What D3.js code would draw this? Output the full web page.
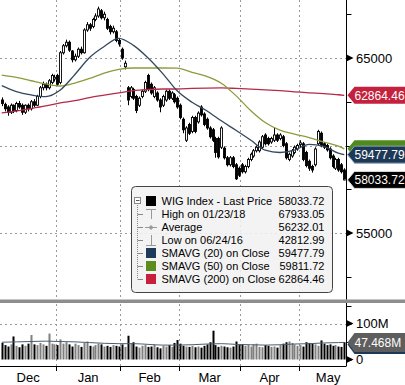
<!DOCTYPE html>
<html><head><meta charset="utf-8">
<script src="https://cdn.jsdelivr.net/npm/d3@7"></script>
<style>
body{margin:0;background:#fff}
svg{display:block}
text{font-family:"Liberation Sans",Arial,sans-serif}
</style>
</head><body>
<svg id="c" width="405" height="385"></svg>
<script>
// ---- data ----
const opens=[62600,62350,62200,61900,62300,62000,62400,62300,61900,62300,62100,62500,62300,62800,63300,63500,63300,63600,63800,
64000,63600,65300,65700,65900,65400,64900,65100,65500,65300,66600,66900,66800,67200,67400,67700,67300,67200,66800,66500,66500,66000,
65500,64500,63300,62800,63200,62800,62300,62800,63100,64000,63500,62800,63000,62600,62300,62600,63100,62700,62900,62700,
62300,61500,60300,61200,60800,61600,61350,62200,61800,61500,61000,60900,60400,60400,59900,59850,59300,58900,59300,58900,58700,
58900,58500,58800,59200,59400,59700,59700,59900,60600,60400,60200,60300,60600,60400,60500,60100,59200,59400,59600,59800,
60050,60100,59600,59100,58800,58900,60100,60700,60100,60000,59800,59400,58700,59200,58900,58600];
const closes=[62400,62100,61900,62300,62000,62400,62200,61900,62300,62100,62500,62300,62800,63300,63500,63300,63700,64000,63900,
63500,65300,65700,65900,65450,64900,65100,65500,65300,66600,66900,66700,67200,67400,67800,67300,67500,66700,66500,66700,66000,65800,
65000,64700,62600,63300,62700,62000,62700,63100,63600,63200,63000,63300,62600,62200,62800,63100,62700,63000,62500,62200,
61600,60900,61000,60700,61600,60800,61850,61750,61200,61000,60500,60300,59600,59350,61000,59300,58900,59300,58800,58100,58300,
58500,58800,59200,59500,59700,59900,60200,60500,60100,60100,60400,60600,60300,60600,60000,59300,59500,59700,59900,60000,
60150,59200,58850,58700,58600,59800,60800,60000,59900,59750,59300,58800,59200,58600,58500,58033.72];
const highs=[62750,62450,62300,62400,62350,62500,62550,62400,62350,62400,62600,62650,62900,63400,63650,63600,63800,64100,64050,
64100,65400,65800,66050,66000,65450,65250,65600,65650,66700,67050,67000,67300,67550,67933.05,67800,67650,67300,66900,66850,66600,66150,
65600,64850,63400,63400,63300,62900,62800,63200,63700,64100,63600,63400,63100,62700,62900,63200,63200,63100,63000,62800,
62400,61600,61100,61300,61700,61700,61950,62300,61900,61600,61100,61000,60500,60500,61100,59950,59400,59400,59400,59000,58800,
59000,58900,59300,59600,59800,60000,60300,60600,60700,60500,60500,61000,60700,60700,60600,60200,59600,59800,60000,60100,
60300,60200,59700,59200,58900,59900,60900,60800,60200,60100,59900,59500,59300,59300,59000,58700];
const lows=[62250,61950,61700,61800,61850,61900,62100,61750,61800,61950,62000,62200,62250,62700,63150,63150,63200,63500,63650,
63400,63500,65200,65600,65350,64750,64800,65000,65200,65250,66500,66550,66700,67100,67300,67200,67150,66600,66350,66400,65900,65650,
64900,64350,62300,62700,62600,61850,62200,62700,63000,63100,62900,62700,62500,61900,62200,62500,62600,62600,62400,62100,
61500,60700,60200,60600,60700,60700,61250,61650,61100,60900,60400,60200,59300,59250,59800,59200,58800,58800,58700,58030,58200,
58400,58400,58700,59100,59300,59600,59600,59800,60000,60000,60100,60200,60200,60300,59900,59200,59100,59300,59500,59700,
59900,59100,58750,58550,58450,58800,60000,59900,59800,59650,59200,58700,58600,58500,58400,58000];
const volumes=[46,40,36,42,64,38,34,42,38,44,68,42,40,46,42,38,72,44,42,
40,56,44,48,42,36,44,40,35,46,50,38,36,40,44,42,36,38,35,40,38,36,
42,35,66,44,48,36,33,38,40,35,36,42,34,31,38,36,40,35,46,54,
44,38,36,35,38,34,36,33,38,42,48,80,40,35,38,36,34,33,36,50,40,
42,38,40,36,42,44,35,34,40,38,35,36,33,40,44,48,50,46,42,38,
40,36,48,46,44,42,38,53,44,40,42,38,40,36,35,48];
const smaIdx=[0,5,10,15,20,25,30,35,40,45,50,55,60,65,70,75,80,85,90,95,100,105,110,115,117];
const sma20=[63420,63080,62890,62790,63170,64060,65030,65660,66120,65720,65000,64110,63110,62470,61990,61410,60870,60310,59730,59600,59730,60060,59950,59560,59477.79];
const sma50=[64020,63890,63700,63520,63400,63570,63830,64140,64350,64430,64430,64430,64420,64180,63950,63560,62850,62000,61310,60880,60650,60450,60200,59970,59811.72];
const sma200=[61870,61970,62110,62260,62430,62560,62740,62880,63010,63140,63200,63230,63230,63260,63280,63290,63260,63220,63180,63130,63070,63010,62960,62900,62864.46];
const volMA=[48,49,50,51,50,49,47,45,44,44,42,40,40,41,43,44,42,41,40,41,43,44,46,47,47.468];
const months=["Dec","Jan","Feb","Mar","Apr","May"];
const monthStart=[0,19,41,61,82,102];
const monthLen=[19,22,20,21,20,20];
const priceTicks=[52500,55000,57500,60000,62500,65000,67500];
const priceGrid=[55000,60000,65000];
const priceLabels=[55000,65000];
const volTicks=[0,50,100,150];
const volLabels=[0,100];
const legendLabels=["WIG Index - Last Price","High on 01/23/18","Average","Low on 06/24/16","SMAVG (20) on Close","SMAVG (50) on Close","SMAVG (200) on Close"];
const legendValues=["58033.72","67933.05","56232.01","42812.99","59477.79","59811.72","62864.46"];
const tagValues=[62864.46,59811.72,59477.79,58033.72];
const volTagValue=47.468;

// ---- drawing ----
const svg=d3.select("#c");
const AX=346.5;
const x=d3.scaleLinear().domain([-0.6,117.6]).range([0,346]);
const y=d3.scaleLinear().domain([65000,55000]).range([58,233]);
const vy=d3.scaleLinear().domain([0,100]).range([359.5,323.5]);
const cSMA20="#33475e", cSMA50="#8c9c3c", cSMA200="#b52a48";

svg.append("defs").append("clipPath").attr("id","pc").append("rect").attr("x",0).attr("y",0).attr("width",346).attr("height",298);

const grid=svg.append("g").attr("stroke","#9a9a9a").attr("stroke-dasharray","2,3").attr("stroke-width",1);
priceGrid.forEach(v=>grid.append("line").attr("x1",0).attr("x2",346).attr("y1",Math.round(y(v))+0.5).attr("y2",Math.round(y(v))+0.5));
grid.append("line").attr("x1",0).attr("x2",346).attr("y1",Math.round(vy(100))+0.5).attr("y2",Math.round(vy(100))+0.5);
monthStart.slice(1).forEach(m=>{
  const gx=Math.round(x(m-0.5))+0.5;
  grid.append("line").attr("x1",gx).attr("x2",gx).attr("y1",0).attr("y2",298);
  grid.append("line").attr("x1",gx).attr("x2",gx).attr("y1",304).attr("y2",366);
});

const pg=svg.append("g").attr("clip-path","url(#pc)");
const idx=d3.range(closes.length);
pg.append("g").selectAll("line").data(idx).join("line")
  .attr("x1",i=>Math.round(x(i))+0.5).attr("x2",i=>Math.round(x(i))+0.5)
  .attr("y1",i=>y(highs[i])).attr("y2",i=>y(lows[i]))
  .attr("stroke","#000").attr("stroke-width",1);
pg.append("g").selectAll("rect").data(idx).join("rect")
  .attr("x",i=>Math.round(x(i))-0.5).attr("width",2)
  .attr("y",i=>y(Math.max(opens[i],closes[i])))
  .attr("height",i=>Math.max(1,Math.abs(y(opens[i])-y(closes[i]))))
  .attr("fill",i=>closes[i]>=opens[i]?"#fff":"#000")
  .attr("stroke","#000").attr("stroke-width",0.9);

const line=arr=>d3.line().x((d,k)=>x(smaIdx[k])).y(d=>y(d)).curve(d3.curveMonotoneX)(arr);
pg.append("path").attr("d",line(sma200)).attr("fill","none").attr("stroke",cSMA200).attr("stroke-width",1.3);
pg.append("path").attr("d",line(sma50)).attr("fill","none").attr("stroke",cSMA50).attr("stroke-width",1.3);
pg.append("path").attr("d",line(sma20)).attr("fill","none").attr("stroke",cSMA20).attr("stroke-width",1.3);
pg.append("line").attr("x1",x(117)).attr("x2",346).attr("y1",y(closes[117])).attr("y2",y(closes[117])).attr("stroke","#c9a35a").attr("stroke-width",1);

svg.append("g").selectAll("rect").data(idx).join("rect")
  .attr("x",i=>Math.round(x(i))-0.5).attr("width",2)
  .attr("y",i=>vy(volumes[i])).attr("height",i=>vy(0)-vy(volumes[i]))
  .attr("fill",i=>closes[i]<opens[i]?"#000":"#7f7f7f");
svg.append("path").attr("d",d3.line().x((d,k)=>x(smaIdx[k])).y(d=>vy(d)).curve(d3.curveMonotoneX)(volMA))
  .attr("fill","none").attr("stroke","#4b5d72").attr("stroke-width",1);

svg.append("rect").attr("x",0).attr("y",299.5).attr("width",405).attr("height",3.5).attr("fill","#8e8e8e");

const ax=svg.append("g").attr("stroke","#000").attr("stroke-width",1);
ax.append("line").attr("x1",AX).attr("x2",AX).attr("y1",0).attr("y2",299.5);
ax.append("line").attr("x1",AX).attr("x2",AX).attr("y1",303).attr("y2",366);
ax.append("line").attr("x1",0).attr("x2",AX).attr("y1",366.5).attr("y2",366.5);
priceTicks.forEach(v=>ax.append("line").attr("x1",AX).attr("x2",AX+5).attr("y1",Math.round(y(v))+0.5).attr("y2",Math.round(y(v))+0.5));
volTicks.forEach(v=>ax.append("line").attr("x1",AX).attr("x2",AX+5).attr("y1",Math.round(vy(v))+0.5).attr("y2",Math.round(vy(v))+0.5));
monthStart.slice(1).forEach(m=>{const gx=Math.round(x(m-0.5))+0.5;ax.append("line").attr("x1",gx).attr("x2",gx).attr("y1",366.5).attr("y2",371);});

const arrow=(cy)=>svg.append("path").attr("d",`M${AX},${cy-3.5}L${AX+7},${cy}L${AX},${cy+3.5}Z`).attr("fill","#000");
priceLabels.forEach(v=>{const cy=y(v);arrow(cy);svg.append("text").attr("x",356).attr("y",cy+4.6).attr("font-size",13).text(v);});
volLabels.forEach(v=>{const cy=vy(v);arrow(cy);svg.append("text").attr("x",356).attr("y",cy+4.6).attr("font-size",13).text(v===0?"0":v+"M");});

months.forEach((m,k)=>{
  svg.append("text").attr("x",x(monthStart[k]+monthLen[k]/2-0.5)).attr("y",381.5).attr("text-anchor","middle").attr("font-size",13).text(m);
});

const tag=(cy,h,fill,txt,stroke)=>{
  svg.append("path").attr("d",`M${AX+1},${cy}L${AX+8},${cy-h/2}L406,${cy-h/2}L406,${cy+h/2}L${AX+8},${cy+h/2}Z`)
    .attr("fill",fill).attr("stroke",stroke||"none").attr("stroke-width",1);
  if(txt) svg.append("text").attr("x",354.5).attr("y",cy+4.3).attr("font-size",12).attr("fill","#fff").text(txt);
};
const tagColors=["#c3213d","#4e8a1e","#1d3956","#000"];
tagValues.forEach((v,k)=>{
  tag(y(v),17,tagColors[k],k===1?null:d3.format(".2f")(v),k===2?"#8aa0b8":(k===3?"#ddd":null));
});
tag(vy(volTagValue)+2,19,"#1d3956",null);
tag(vy(volTagValue),19,"#5e5e5e",volTagValue.toFixed(3)+"M");

const lg=svg.append("g");
lg.append("rect").attr("x",131.5).attr("y",186.5).attr("width",201).attr("height",106).attr("rx",4)
  .attr("fill","#f1f1f1").attr("fill-opacity",0.88).attr("stroke","#444");
const rowY=k=>201+k*13;
lg.append("line").attr("x1",137.5).attr("x2",137.5).attr("y1",205).attr("y2",rowY(6)).attr("stroke","#888").attr("stroke-dasharray","1,1");
for(let k=1;k<7;k++) lg.append("line").attr("x1",137.5).attr("x2",143).attr("y1",rowY(k)+0.5).attr("y2",rowY(k)+0.5).attr("stroke","#888");
lg.append("rect").attr("x",134.5).attr("y",197.5).attr("width",6).attr("height",6).attr("fill","#fff").attr("stroke","#888");
lg.append("line").attr("x1",136).attr("x2",139.5).attr("y1",200.5).attr("y2",200.5).attr("stroke","#555");
const sq=(k,c)=>lg.append("rect").attr("x",146).attr("y",rowY(k)-5).attr("width",10).attr("height",10).attr("fill",c);
sq(0,"#000");sq(4,"#1b3a5c");sq(5,"#5a8c1e");sq(6,"#c8203c");
const ic=lg.append("g").attr("stroke","#999").attr("stroke-width",1).attr("fill","none");
ic.append("path").attr("d",`M146,${rowY(1)-4.5}H156M151.5,${rowY(1)-4.5}V${rowY(1)+5}`);
ic.append("path").attr("d",`M145,${rowY(2)+0.5}H157`);
ic.append("path").attr("d",`M151,${rowY(2)-1.5}l2,2l-2,2l-2,-2z`).attr("fill","#999");
ic.append("path").attr("d",`M146,${rowY(3)+5.5}H156M151.5,${rowY(3)-5}V${rowY(3)+5.5}`);
legendLabels.forEach((t,k)=>{
  lg.append("text").attr("x",161.5).attr("y",rowY(k)+4).attr("font-size",11).text(t);
  lg.append("text").attr("x",324.5).attr("y",rowY(k)+4).attr("font-size",11).attr("text-anchor","end").text(legendValues[k]);
});
</script>
</body></html>
